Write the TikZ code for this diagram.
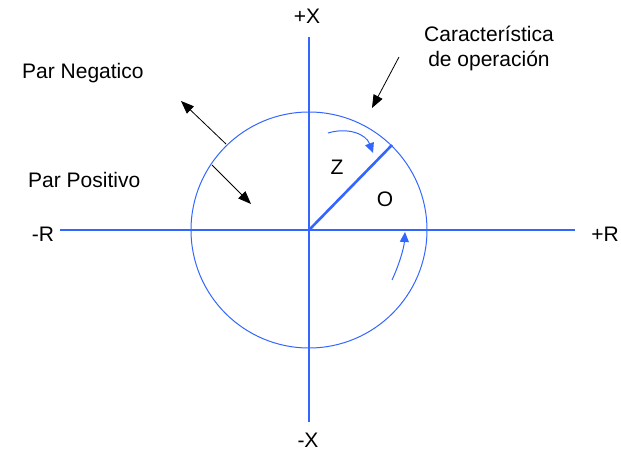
\documentclass[tikz,border=0pt]{standalone}
\usepackage{fontspec}
\setmainfont{Liberation Sans}
\usetikzlibrary{arrows.meta}
\definecolor{ejeBlue}{RGB}{51,102,255}
\tikzset{
  eje/.style={ejeBlue, line width=2.6pt},
  lbl/.style={inner sep=0pt, font=\fontsize{21}{25}\selectfont},
  pointer/.style={-{Triangle[length=13pt, width=10pt]}, line width=0.8pt},
  giro/.style={ejeBlue, line width=1pt, -{Triangle[length=10pt, width=9pt]}},
}

\begin{document}
\begin{tikzpicture}[x=1pt, y=-1pt]
  \useasboundingbox (0,0) rectangle (621,453);

  % ----- axes -----
  \coordinate (o) at (309,230);
  \coordinate (xtop) at (309,37);
  \coordinate (xbot) at (309,422);
  \coordinate (rleft) at (60,230);
  \coordinate (rright) at (575,230);
  \draw[eje] (rleft) -- (rright);
  \draw[eje] (xtop) -- (xbot);

  % ----- operating characteristic -----
  \draw[ejeBlue, line width=1pt] (o) circle[radius=118];
  \coordinate (zend) at (392,145);
  \draw[eje] (o) -- (zend);

  % ----- rotation arrows -----
  \coordinate (g1a) at (328,133);
  \coordinate (g1b) at (373,153);
  \draw[giro] (g1a) .. controls (348,127) and (366,134) .. (g1b);
  \coordinate (g2a) at (392,280);
  \coordinate (g2b) at (405,232);
  \draw[giro] (g2a) .. controls (399,265) and (404,248) .. (g2b);

  % ----- pointers -----
  \coordinate (p1a) at (226,144);
  \coordinate (p1b) at (181,101);
  \draw[pointer] (p1a) -- (p1b);
  \coordinate (p2a) at (212,165);
  \coordinate (p2b) at (251,204);
  \draw[pointer] (p2a) -- (p2b);
  \coordinate (p3a) at (399,57);
  \coordinate (p3b) at (372,108);
  \draw[pointer] (p3a) -- (p3b);

  % ----- labels -----
  \node[lbl] (xpos) at (307,16) {+X};
  \node[lbl] (xneg) at (308,440) {-X};
  \node[lbl] (rneg) at (43,234) {-R};
  \node[lbl] (rpos) at (605,234) {+R};
  \node[lbl, anchor=west] (parneg) at (22,73) {Par Negatico};
  \node[lbl, anchor=west] (parpos) at (28,180) {Par Positivo};
  \node[lbl, align=center] (caract) at (489,48) {Característica\\de operación};
  \node[lbl] (zlbl) at (337,167) {Z};
  \node[lbl] (olbl) at (385,199) {O};
\end{tikzpicture}
\end{document}
